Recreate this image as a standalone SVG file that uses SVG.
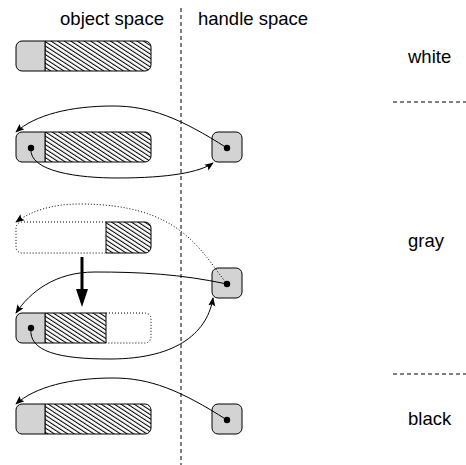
<svg xmlns="http://www.w3.org/2000/svg" width="466" height="465" viewBox="0 0 466 465">
<style>
text{font-family:"Liberation Sans",Arial,sans-serif;font-size:18.5px;fill:#000}
.gray{fill:#d3d3d3;stroke:#000;stroke-width:1}
.hatch{fill:url(#h);stroke:#000;stroke-width:1}
.dotted{fill:none;stroke:#000;stroke-width:1;stroke-dasharray:1,2}
.conn{fill:none;stroke:#000;stroke-width:1}
.dot{fill:#000}
</style>
<defs>
<pattern id="h" patternUnits="userSpaceOnUse" width="3.6" height="3.6" patternTransform="rotate(-57)">
<rect width="3.6" height="3.6" fill="#fff"/>
<line x1="0.5" y1="0" x2="0.5" y2="3.6" stroke="#000" stroke-width="1.1"/>
</pattern>
<marker id="a" viewBox="0 0 10 10" refX="9" refY="5" markerWidth="9" markerHeight="9" markerUnits="userSpaceOnUse" orient="auto">
<path d="M0,1 L10,5 L0,9 L2,5 z" fill="#000"/>
</marker>
</defs>
<text x="112" y="25" text-anchor="middle">object space</text>
<text x="198" y="25">handle space</text>
<line x1="181" y1="8" x2="181" y2="465" stroke="#000" stroke-dasharray="4,3"/>
<text x="408" y="63">white</text>
<text x="408" y="247">gray</text>
<text x="408" y="425">black</text>
<line x1="393" y1="102" x2="466" y2="102" stroke="#000" stroke-dasharray="4,3"/>
<line x1="393" y1="374" x2="466" y2="374" stroke="#000" stroke-dasharray="4,3"/>

<g id="obj1">
<path class="hatch" d="M45,41 H145 a6,6 0 0 1 6,6 V65 a6,6 0 0 1 -6,6 H45 z"/>
<path class="gray" d="M45,41 H22 a6,6 0 0 0 -6,6 V65 a6,6 0 0 0 6,6 H45 z"/>
</g>

<g id="obj2">
<path class="hatch" d="M45,132 H145 a6,6 0 0 1 6,6 V156 a6,6 0 0 1 -6,6 H45 z"/>
<path class="gray" d="M45,132 H22 a6,6 0 0 0 -6,6 V156 a6,6 0 0 0 6,6 H45 z"/>
<circle class="dot" cx="31" cy="148" r="3.2"/>
</g>
<g id="handle2">
<rect class="gray" x="212" y="132" width="30" height="30" rx="6"/>
<circle class="dot" cx="227" cy="148" r="3.2"/>
</g>

<g id="obj3">
<path class="dotted" d="M106,222 H22 a6,6 0 0 0 -6,6 V247 a6,6 0 0 0 6,6 H106"/>
<path class="hatch" d="M106,222 H145 a6,6 0 0 1 6,6 V247 a6,6 0 0 1 -6,6 H106 z"/>
</g>

<g id="obj4">
<path class="dotted" d="M106,313 H145 a6,6 0 0 1 6,6 V337 a6,6 0 0 1 -6,6 H106"/>
<path class="hatch" d="M45,313 H106 V343 H45 z"/>
<path class="gray" d="M45,313 H22 a6,6 0 0 0 -6,6 V337 a6,6 0 0 0 6,6 H45 z"/>
<circle class="dot" cx="31" cy="328" r="3.2"/>
</g>
<g id="handle4">
<rect class="gray" x="212" y="268" width="30" height="30" rx="6"/>
<circle class="dot" cx="227" cy="284" r="3.2"/>
</g>

<g id="obj5">
<path class="hatch" d="M45,404 H145 a6,6 0 0 1 6,6 V428 a6,6 0 0 1 -6,6 H45 z"/>
<path class="gray" d="M45,404 H22 a6,6 0 0 0 -6,6 V428 a6,6 0 0 0 6,6 H45 z"/>
</g>
<g id="handle5">
<rect class="gray" x="212" y="404" width="30" height="30" rx="6"/>
<circle class="dot" cx="227" cy="420" r="3.2"/>
</g>

<g id="connectors">
<path class="conn" marker-end="url(#a)" d="M227,148 C180,118 150,106 113,106 C70,106 35,115 16,132"/>
<path class="conn" marker-end="url(#a)" d="M31,148 C28,172 80,178 117,178 C170,178 200,172 213,163"/>
<path class="dotted" marker-end="url(#a)" d="M227,284 C200,250 180,204 80,204 C50,204 30,212 16,222"/>
<line x1="82" y1="257" x2="82" y2="290" stroke="#000" stroke-width="3"/>
<path d="M76,289 L88,289 L82,307 z" fill="#000"/>
<path class="conn" marker-end="url(#a)" d="M227,284 C180,274 140,272 95,272 C55,272 30,292 16,313"/>
<path class="conn" marker-end="url(#a)" d="M31,328 C28,352 60,359 110,359 C180,359 208,330 213,298"/>
<path class="conn" marker-end="url(#a)" d="M227,420 C180,390 150,378 113,378 C70,378 35,387 16,404"/>
</g>
</svg>
